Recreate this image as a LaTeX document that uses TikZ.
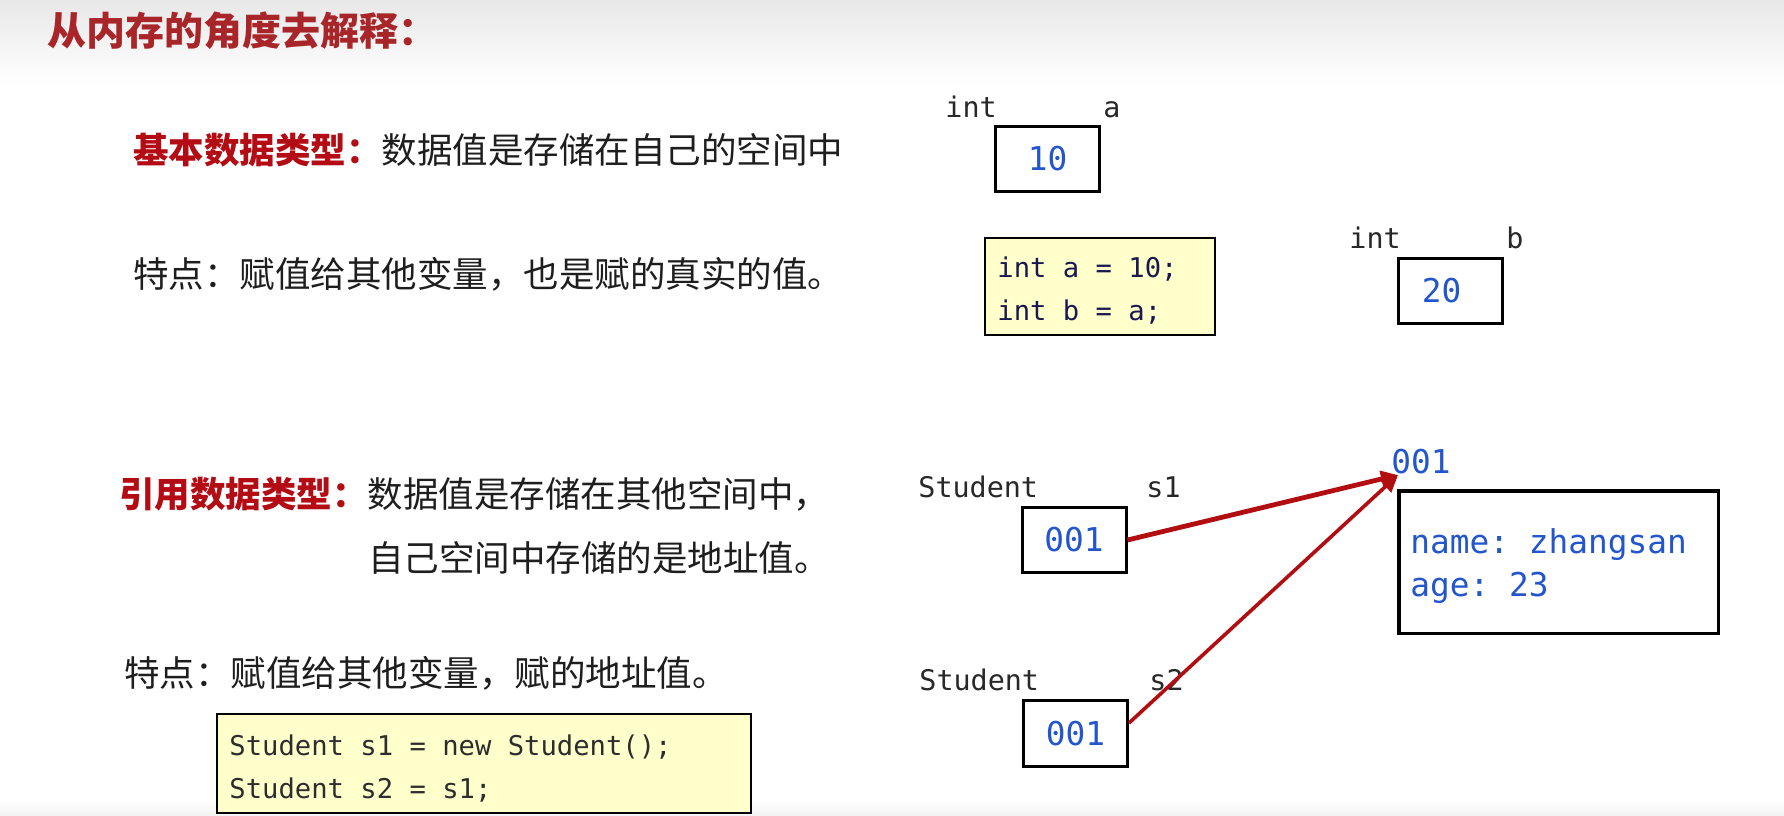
\documentclass[tikz,border=0pt]{standalone}
\usepackage{fontspec}
\usetikzlibrary{arrows.meta}
\newfontfamily\cjk{Noto Sans CJK SC}
\newfontfamily\mono{DejaVu Sans Mono}
\frenchspacing
\definecolor{titlered}{RGB}{168,38,42}
\definecolor{labelred}{RGB}{180,12,20}
\definecolor{bodytext}{RGB}{30,30,30}
\definecolor{lbltext}{RGB}{40,40,40}
\definecolor{valblue}{RGB}{35,85,205}
\definecolor{codeyellow}{RGB}{255,255,204}
\definecolor{navycode}{RGB}{25,25,80}
\definecolor{codegray}{RGB}{45,45,45}
\definecolor{arrowred}{RGB}{178,14,18}
\tikzset{
  cjktxt/.style={inner sep=0pt, anchor=west, text=bodytext, font=\cjk\fontsize{17.75pt}{20pt}\selectfont},
  lbl/.style={inner sep=0pt, anchor=base west, text=lbltext, font=\mono\fontsize{14.2pt}{16pt}\selectfont},
  valtxt/.style={inner sep=0pt, anchor=base west, text=valblue, font=\mono\fontsize{16.4pt}{18pt}\selectfont},
  cell/.style={draw=black, line width=1.5pt, inner sep=0pt, minimum width=52pt, minimum height=32.5pt, text=valblue, font=\mono\fontsize{16.4pt}{18pt}\selectfont},
  codebox/.style={draw=black, line width=1pt, fill=codeyellow, inner sep=0pt},
  codetxt/.style={inner sep=0pt, anchor=base west, font=\mono\fontsize{13.6pt}{16pt}\selectfont},
  ptr/.style={draw=arrowred, -{Triangle[length=8.5pt,width=8pt]}},
}
\begin{document}
\begin{tikzpicture}[x=0.5pt,y=-0.5pt]
\useasboundingbox (0,0) rectangle (1784,815);
\fill[white] (0,0) rectangle (1784,815);
\shade[top color=black!9, bottom color=white] (0,0) rectangle (1784,85);
\shade[top color=white, bottom color=black!5] (0,800) rectangle (1784,815);

% title and texts
\node[cjktxt, text=titlered, font=\cjk\bfseries\fontsize{19.5pt}{22pt}\selectfont] (title) at (47,31) {从内存的角度去解释：};
\node[cjktxt] (l1) at (133,150) {\textcolor{labelred}{\bfseries 基本数据类型：}数据值是存储在自己的空间中};
\node[cjktxt] (l2) at (133,274) {特点：赋值给其他变量，也是赋的真实的值。};
\node[cjktxt] (l3) at (119,494) {\textcolor{labelred}{\bfseries 引用数据类型：}数据值是存储在其他空间中，};
\node[cjktxt] (l4) at (368,558) {自己空间中存储的是地址值。};
\node[cjktxt] (l5) at (124,673) {特点：赋值给其他变量，赋的地址值。};

% code boxes
\node[codebox, minimum width=115pt, minimum height=48.5pt] (code1) at (1100,286) {};
\node[codetxt, text=navycode] (c1a) at (997,277) {int a = 10;};
\node[codetxt, text=navycode] (c1b) at (997,320) {int b = a;};
\node[codebox, minimum width=267pt, minimum height=49.5pt] (code2) at (483.5,763) {};
\node[codetxt, text=codegray] (c2a) at (229,755) {Student s1 = new Student();};
\node[codetxt, text=codegray] (c2b) at (229,798) {Student s2 = s1;};

% primitive variables
\node[lbl] (ta) at (945,117) {int};
\node[lbl] (na) at (1103,117) {a};
\node[cell] (ca) at (1047.5,159) {10};
\node[lbl] (tb) at (1349,248) {int};
\node[lbl] (nb) at (1506,248) {b};
\node[cell] (cb) at (1450.5,291) {20\hspace*{9pt}};

% reference variables
\node[lbl] (ts1) at (918,497) {Student};
\node[lbl] (ns1) at (1146,497) {s1};
\node[cell] (cs1) at (1074,540) {001};
\node[lbl] (ts2) at (919,690) {Student};
\node[lbl] (ns2) at (1149,690) {s2};
\node[cell, minimum height=33pt] (cs2) at (1075.5,733.5) {001};

% heap object
\node[valtxt] (addr) at (1391,473) {001};
\node[draw=black, line width=1.75pt, inner sep=0pt, minimum width=159.75pt, minimum height=71.25pt] (heap) at (1558.5,562) {};
\node[valtxt] (hname) at (1410,553) {name: zhangsan};
\node[valtxt] (hage) at (1410,596) {age: 23};

% pointers
\coordinate (tip) at (1398,475);
\draw[ptr, line width=2.4pt] (cs1.east) -- (tip);
\draw[ptr, line width=1.8pt] ([yshift=5.25pt]cs2.east) -- (tip);
\end{tikzpicture}
\end{document}
